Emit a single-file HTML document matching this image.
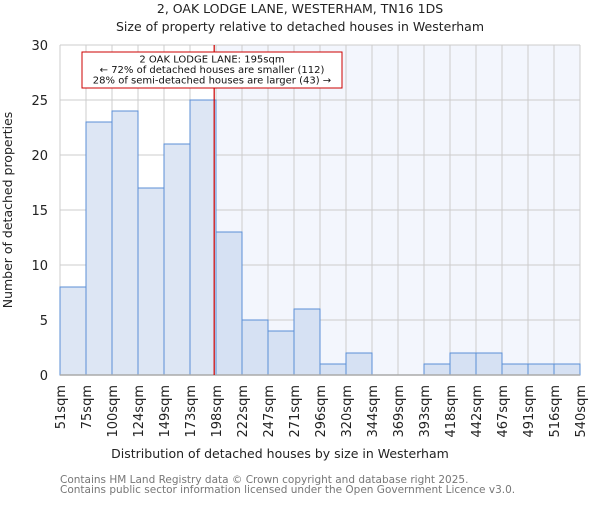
<!DOCTYPE html>
<html><head><meta charset="utf-8"><style>
body{margin:0;background:#fff}
svg{font-family:"DejaVu Sans","Liberation Sans",sans-serif}
</style></head><body>
<svg id="chart" width="600" height="500">
<text x="300" y="13" text-anchor="middle" font-size="12.5" fill="#222">2, OAK LODGE LANE, WESTERHAM, TN16 1DS</text>
<text x="300" y="31" text-anchor="middle" font-size="12.5" fill="#222">Size of property relative to detached houses in Westerham</text>
<g id="plot"></g>
<text x="280" y="458" text-anchor="middle" font-size="12.5" fill="#222">Distribution of detached houses by size in Westerham</text>
<text transform="translate(12,210) rotate(-90)" text-anchor="middle" font-size="12.5" fill="#222">Number of detached properties</text>
<text x="60" y="483" font-size="10.5" fill="#777">Contains HM Land Registry data © Crown copyright and database right 2025.</text>
<text x="60" y="493" font-size="10.5" fill="#777">Contains public sector information licensed under the Open Government Licence v3.0.</text>
</svg>
<script>
const binLabels=["51sqm","75sqm","100sqm","124sqm","149sqm","173sqm","198sqm","222sqm","247sqm","271sqm","296sqm","320sqm","344sqm","369sqm","393sqm","418sqm","442sqm","467sqm","491sqm","516sqm","540sqm"];
const counts=[8,23,24,17,21,25,13,5,4,6,1,2,0,0,1,2,2,1,1,1];
const yTicks=[0,5,10,15,20,25,30];
const propertyBinPos=5.93;
const highlightStartBin=6;
const NS="http://www.w3.org/2000/svg";
const g=document.getElementById("plot");
const X0=60,X1=580,Y0=375,Y1=45,YMAX=30;
const n=counts.length;
const xs=i=>X0+(X1-X0)*i/n;
const ys=v=>Y0-(Y0-Y1)*v/YMAX;
function mk(t,a){const e=document.createElementNS(NS,t);for(const k in a)e.setAttribute(k,a[k]);g.appendChild(e);return e;}
const lineX=xs(propertyBinPos);
const hX=xs(highlightStartBin);
let e=mk("rect",{x:hX,y:Y1,width:X1-hX,height:Y0-Y1,fill:"#f3f6fd"});


for(let i=0;i<=n;i++){e=mk("line",{x1:xs(i),x2:xs(i),y1:Y1,y2:Y0,stroke:"#ccc","stroke-width":1});

}
yTicks.forEach(v=>{e=mk("line",{x1:X0,x2:X1,y1:ys(v),y2:ys(v),stroke:"#ccc","stroke-width":1});


const t=mk("text",{x:X0-12,y:ys(v)+5,"text-anchor":"end","font-size":13,fill:"#222"});t.textContent=v;

});
counts.forEach((c,i)=>{if(c<=0)return;
const r=mk("rect",{x:xs(i),y:ys(c),width:xs(i+1)-xs(i),height:Y0-ys(c),fill:i<6?"#dde6f4":"#d6e1f3",stroke:"#5b8fd6","stroke-width":1});

});
e=mk("line",{x1:X0,x2:X1,y1:Y0,y2:Y0,stroke:"#aaa","stroke-width":1.5});


binLabels.forEach((l,i)=>{const t=mk("text",{transform:`translate(${xs(i)+5},385) rotate(-90)`,"text-anchor":"end","font-size":13,fill:"#222"});t.textContent=l;

});
e=mk("line",{x1:lineX,x2:lineX,y1:Y1,y2:Y0,stroke:"#cc0000","stroke-width":1.2});


e=mk("rect",{x:82,y:52,width:260,height:36,fill:"#fff",stroke:"#cc0000","stroke-width":1});


["2 OAK LODGE LANE: 195sqm","← 72% of detached houses are smaller (112)","28% of semi-detached houses are larger (43) →"].forEach((s,k)=>{const t=mk("text",{x:212,y:62.5+k*10.5,"text-anchor":"middle","font-size":10,fill:"#111"});t.textContent=s;

});
</script>
</body></html>
